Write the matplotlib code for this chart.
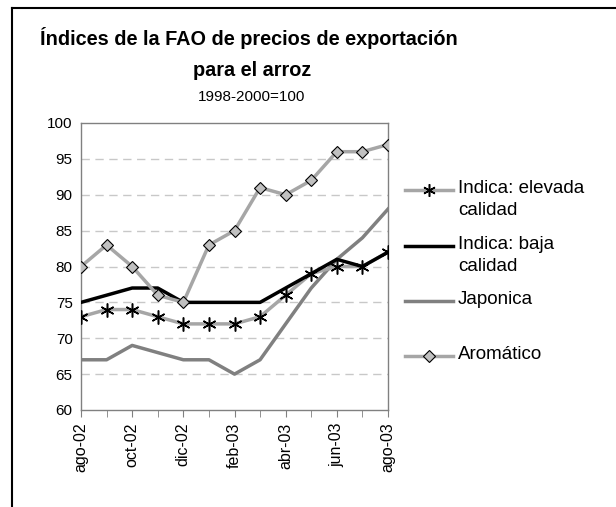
import matplotlib.pyplot as plt
from matplotlib.lines import Line2D

plt.rcParams['font.family'] = ['Liberation Sans', 'DejaVu Sans']

# meses ago-02 .. ago-03
meses = ['ago-02', 'sep-02', 'oct-02', 'nov-02', 'dic-02', 'ene-03', 'feb-03',
         'mar-03', 'abr-03', 'may-03', 'jun-03', 'jul-03', 'ago-03']
elevada = [73, 74, 74, 73, 72, 72, 72, 73, 76, 79, 80, 80, 82]
baja = [75, 76, 77, 77, 75, 75, 75, 75, 77, 79, 81, 80, 82]
japonica = [67, 67, 69, 68, 67, 67, 65, 67, 72, 77, 81, 84, 88]
aromatico = [80, 83, 80, 76, 75, 83, 85, 91, 90, 92, 96, 96, 97]

W, H = 616, 507
fig = plt.figure(figsize=(W / 100, H / 100), dpi=100)
ax = fig.add_axes([81 / W, 1 - 410 / H, (388 - 81) / W, (410 - 123) / H])

x = list(range(len(meses)))
ast = (6, 2, 0)  # asterisco
ax.plot(x, elevada, color='#a6a6a6', lw=2.5, marker=ast, ms=10, mec='black',
        mew=1.1, zorder=3)
ax.plot(x, baja, color='black', lw=2.5, zorder=4)
ax.plot(x, japonica, color='#808080', lw=2.5, zorder=2)
ax.plot(x, aromatico, color='#a6a6a6', lw=2.5, marker='D', ms=6.5, mfc='#c0c0c0',
        mec='black', mew=0.8, zorder=5)

ax.set_xlim(0, len(meses) - 1)
ax.set_ylim(60, 100)
ax.set_yticks(range(60, 101, 5))
ax.set_xticks(x[::2])
ax.set_xticklabels(meses[::2], rotation=90, fontsize=11.5)
ax.set_xticks(x, minor=True)
ax.tick_params(axis='y', labelsize=11, length=0, pad=6)
ax.tick_params(axis='x', which='both', direction='out', length=5, color='#808080',
               pad=4)
for y in range(65, 100, 5):
    ax.axhline(y, color='#c8c8c8', lw=1, dashes=(6, 4), zorder=1)
for s in ax.spines.values():
    s.set_color('#808080')
    s.set_linewidth(1)

# titulo
fig.text(249 / W, 1 - 38 / H, 'Índices de la FAO de precios de exportación',
         ha='center', va='center', fontsize=14.3, fontweight='bold')
fig.text(252 / W, 1 - 70 / H, 'para el arroz', ha='center', va='center',
         fontsize=14.3, fontweight='bold')
fig.text(252 / W, 1 - 97 / H, '1998-2000=100', ha='center', va='center',
         fontsize=11)

# leyenda
ley = [('Indica: elevada\ncalidad', '#a6a6a6', dict(marker=ast, ms=9, mec='black', mew=1.1)),
       ('Indica: baja\ncalidad', 'black', None),
       ('Japonica', '#808080', None),
       ('Aromático', '#a6a6a6', dict(marker='D', ms=6, mfc='#c0c0c0', mec='black', mew=0.8))]
ys = [190, 246, 301, 356]
for (lab, col, mk), yy in zip(ley, ys):
    yf = 1 - yy / H
    fig.add_artist(Line2D([405 / W, 453 / W], [yf, yf], color=col, lw=2.5))
    if mk:
        fig.add_artist(Line2D([429 / W], [yf], ls='none', **mk))
    fig.text(458 / W, yf + 10 / H, lab, ha='left', va='top', fontsize=13.5,
             linespacing=1.35)

# marco
fig.add_artist(Line2D([12 / W, 12 / W], [0, 1 - 8 / H], color='black', lw=1.5))
fig.add_artist(Line2D([12 / W, 1], [1 - 8 / H, 1 - 8 / H], color='black', lw=1.5))

fig.savefig('out.png', dpi=100)
